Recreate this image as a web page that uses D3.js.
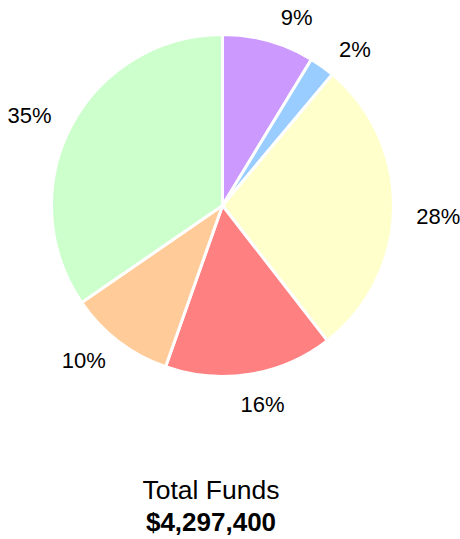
<!DOCTYPE html>
<html>
<head>
<meta charset="utf-8">
<script src="https://cdn.jsdelivr.net/npm/d3@7"></script>
<style>
  html, body { margin: 0; padding: 0; background: #fff; }
  svg { display: block; font-family: "Liberation Sans", Arial, sans-serif; }
</style>
</head>
<body>
<div id="chart"></div>
<script>
// Pie of total funds, slices clockwise from 12 o'clock
const categories = ['A', 'B', 'C', 'D', 'E', 'F'];
const shares = [8.7, 2.4, 28.4, 15.9, 10.0, 34.6];
const labels = ['9%', '2%', '28%', '16%', '10%', '35%'];
const colors = ['#cc99ff', '#99ccff', '#ffffcc', '#ff8080', '#ffcc99', '#ccffcc'];
const titleLine = 'Total Funds';
const totalLine = '$4,297,400';

const width = 460, height = 539;
const cx = 222.5, cy = 205.5, r = 171;
const labelR = r + 23;
// small angle tweaks (degrees) so labels dodge each other like the original
const labelShift = [5, 3.5, 2, -1.5, 2.5, -1];

const svg = d3.select('#chart')
  .append('svg')
  .attr('width', width)
  .attr('height', height);

const pie = d3.pie().sort(null).value(d => d.v);
const arcs = pie(categories.map((c, i) => ({ c, v: shares[i], i })));
const arc = d3.arc().innerRadius(0).outerRadius(r);

const g = svg.append('g').attr('transform', `translate(${cx},${cy})`);

g.selectAll('path')
  .data(arcs)
  .join('path')
  .attr('d', arc)
  .attr('fill', d => colors[d.data.i])
  .attr('stroke', '#fff')
  .attr('stroke-width', 3)
  .attr('stroke-linejoin', 'miter');

// labels sit just outside the rim; box pushed out along the mid angle
const fs = 22;
const txt = g.selectAll('text.lbl')
  .data(arcs)
  .join('text')
  .attr('class', 'lbl')
  .attr('font-size', fs)
  .attr('fill', '#000')
  .attr('text-anchor', 'middle')
  .text(d => labels[d.data.i]);

txt.each(function(d) {
  const a = (d.startAngle + d.endAngle) / 2 + labelShift[d.data.i] * Math.PI / 180;
  const w = this.getComputedTextLength();
  const h = fs * 0.72;
  const s = Math.sin(a), c = -Math.cos(a);
  const x = labelR * s + s * w / 2;
  const y = labelR * c + c * h / 2;
  d3.select(this).attr('x', x).attr('y', y + h / 2);
});

svg.append('text')
  .attr('x', 211)
  .attr('y', 499)
  .attr('text-anchor', 'middle')
  .attr('font-size', 26.5)
  .attr('fill', '#000')
  .text(titleLine);

svg.append('text')
  .attr('x', 211)
  .attr('y', 531)
  .attr('text-anchor', 'middle')
  .attr('font-size', 26)
  .attr('font-weight', 'bold')
  .attr('fill', '#000')
  .text(totalLine);
</script>
</body>
</html>
